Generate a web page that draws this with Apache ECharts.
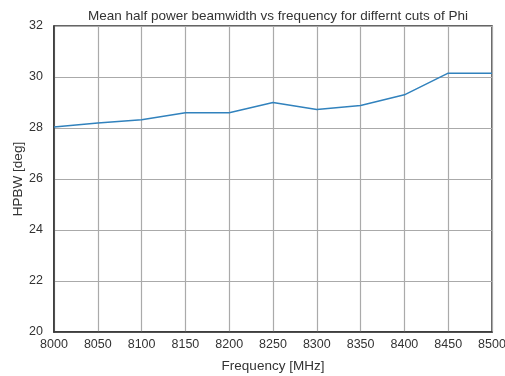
<!DOCTYPE html>
<html><head><meta charset="utf-8">
<script src="https://cdn.jsdelivr.net/npm/echarts@6/dist/echarts.min.js"></script>
<style>html,body{margin:0;padding:0;background:#fff}#c{width:505px;height:376px}</style>
</head><body><div id="c"></div>
<script>
const freqs = [8000, 8050, 8100, 8150, 8200, 8250, 8300, 8350, 8400, 8450, 8500];
const hpbw = [28.04, 28.2, 28.32, 28.6, 28.6, 29.0, 28.73, 28.88, 29.3, 30.15, 30.15];
const titleText = 'Mean half power beamwidth vs frequency for differnt cuts of Phi';
const xName = 'Frequency [MHz]';
const yName = 'HPBW [deg]';

const chart = echarts.init(document.getElementById('c'), null, {renderer: 'canvas'});
const font = 'Liberation Sans, Arial, sans-serif';
chart.setOption({
  animation: false,
  title: {text: titleText, left: 273, top: 4, textAlign: 'center',
    textStyle: {fontSize: 13.5, fontWeight: 'normal', color: '#333', fontFamily: font}},
  grid: {left: 54, right: 13, top: 26, bottom: 44, show: true, borderColor: '#333', borderWidth: 1.5,
    outerBoundsMode: 'none', containLabel: false},
  xAxis: {type: 'value', min: 8000, max: 8500, interval: 50,
    name: xName, nameLocation: 'middle', nameGap: 27,
    nameTextStyle: {fontSize: 13.5, color: '#333', fontFamily: font},
    axisLine: {show: true, lineStyle: {color: '#333', width: 1.5}},
    axisTick: {show: false},
    axisLabel: {fontSize: 12.5, color: '#333', fontFamily: font, margin: 6, formatter: v => String(v)},
    splitLine: {show: true, lineStyle: {color: '#aaa', width: 1.2}}},
  yAxis: {type: 'value', min: 20, max: 32, interval: 2,
    name: yName, nameLocation: 'middle', nameGap: 29, nameMoveOverlap: false,
    nameTextStyle: {fontSize: 13.5, color: '#333', fontFamily: font},
    axisLine: {show: true, lineStyle: {color: '#333', width: 1.5}},
    axisTick: {show: false},
    axisLabel: {fontSize: 12.5, color: '#333', fontFamily: font, margin: 11},
    splitLine: {show: true, lineStyle: {color: '#aaa', width: 1.2}}},
  series: [{type: 'line', data: freqs.map((f, i) => [f, hpbw[i]]),
    showSymbol: false, lineStyle: {color: '#3182bd', width: 1.5}}]
});
</script></body></html>
